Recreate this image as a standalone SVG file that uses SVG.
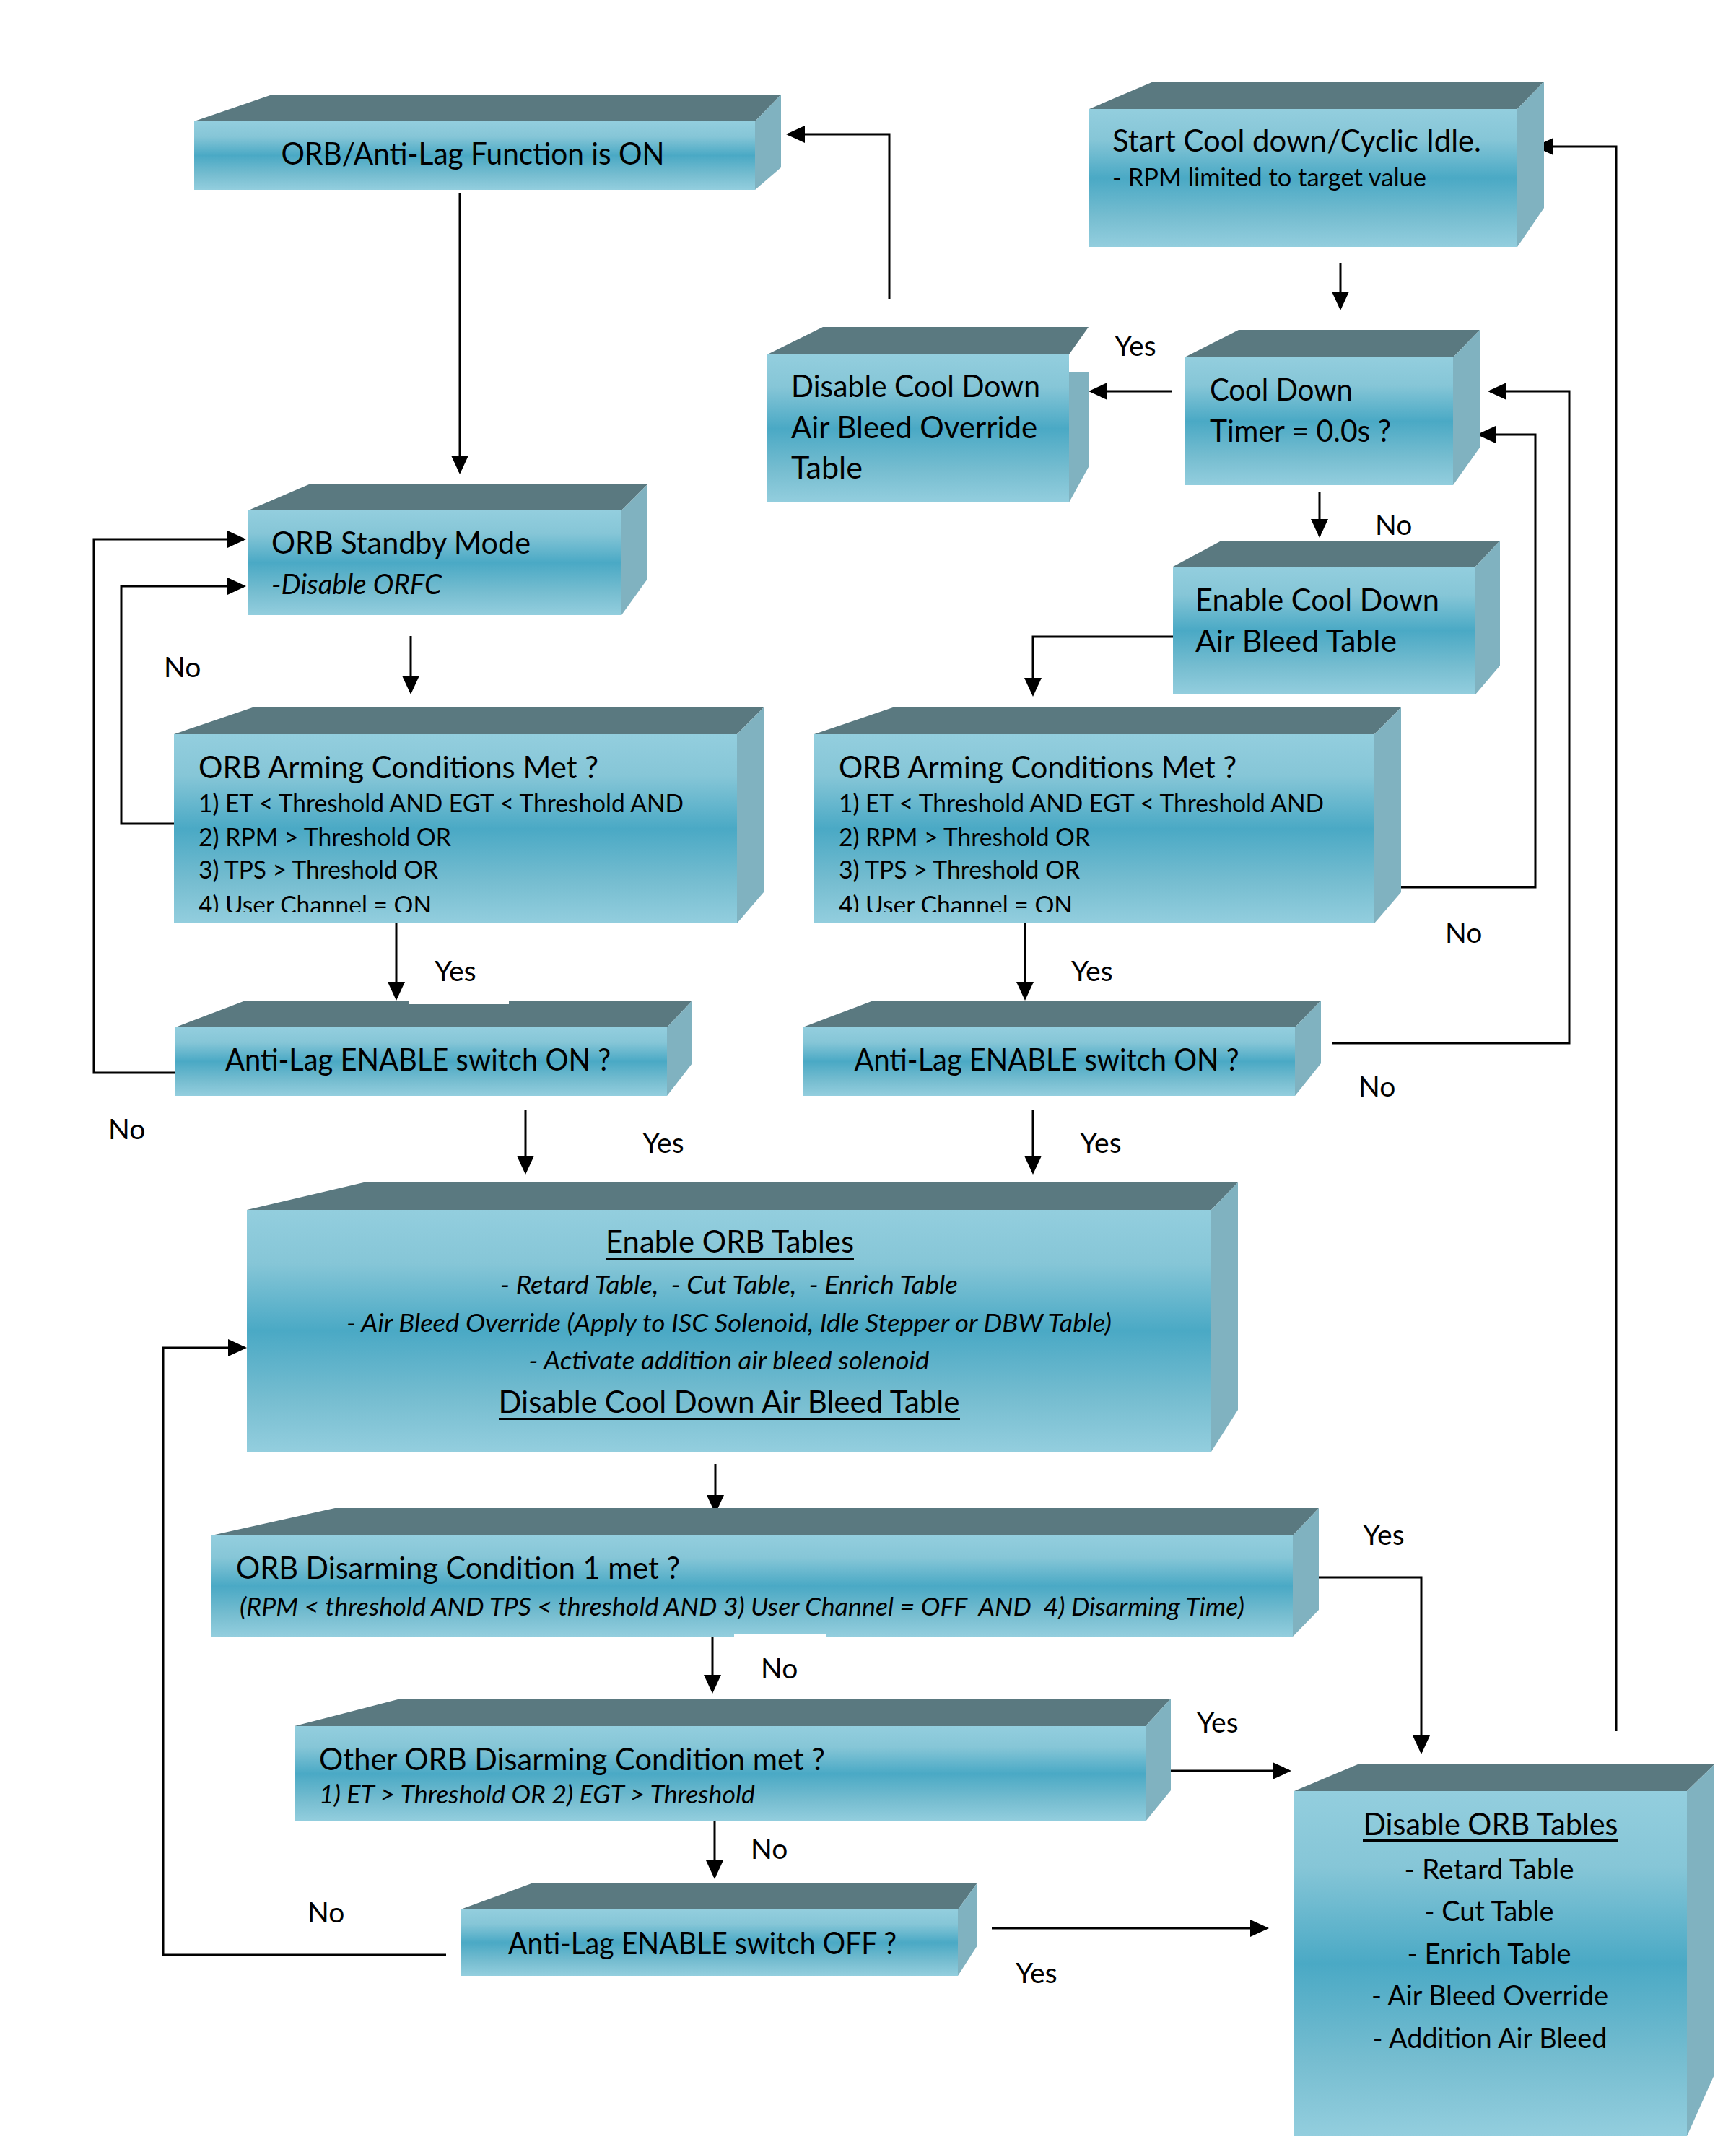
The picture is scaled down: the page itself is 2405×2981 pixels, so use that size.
<svg xmlns="http://www.w3.org/2000/svg" width="2405" height="2981" viewBox="0 0 2405 2981">
<defs>
<linearGradient id="front" x1="0" y1="0" x2="0" y2="1">
<stop offset="0" stop-color="#93cede"/>
<stop offset="0.22" stop-color="#86c6d7"/>
<stop offset="0.5" stop-color="#4aa9c5"/>
<stop offset="0.78" stop-color="#76bdd0"/>
<stop offset="1" stop-color="#93cede"/>
</linearGradient>
<marker id="arr" markerUnits="userSpaceOnUse" markerWidth="26" markerHeight="24" viewBox="0 0 26 24" refX="23" refY="12" orient="auto">
<path d="M0,0 L26,12 L0,24 z" fill="#000"/>
</marker>
<clipPath id="clipArm"><rect x="0" y="0" width="2405" height="1264"/></clipPath>
</defs>
<style>
.top{fill:#5a7980}
.side{fill:#80b2c0}
.front{fill:url(#front)}
.t{font-family:Lato,"Liberation Sans",sans-serif;fill:#000;white-space:pre}
.ti{font-size:42px}
.s{font-size:35px}
.i{font-style:italic}
.m{text-anchor:middle}
.lbl{font-family:Lato,"Liberation Sans",sans-serif;font-size:39px;fill:#000}
.c{stroke:#000;stroke-width:3;fill:none;marker-end:url(#arr)}
.cn{stroke:#000;stroke-width:3;fill:none}
.ul{fill:#000}
.wh{fill:#fff}
</style>

<g id="connectors">
<path class="c" d="M637,268 V654"/>
<path class="c" d="M1232,414 V186 H1092"/>
<path class="c" d="M1857,365 V427"/>
<path class="c" d="M1624,542 H1511"/>
<path class="c" d="M1828,682 V742"/>
<path class="c" d="M1625,882 H1431 V962"/>
<path class="c" d="M1934,1229 H2127 V602 H2049"/>
<path class="c" d="M1845,1445 H2174 V542 H2064"/>
<path class="c" d="M569,881 V959"/>
<path class="c" d="M241,1141 H168 V812 H338"/>
<path class="c" d="M243,1486 H130 V747 H338"/>
<path class="c" d="M549,1279 V1383"/>
<path class="c" d="M1420,1279 V1383"/>
<path class="c" d="M728,1538 V1624"/>
<path class="c" d="M1431,1538 V1624"/>
<path class="c" d="M991,2028 V2094"/>
<path class="c" d="M1806,2185 H1969 V2427"/>
<path class="c" d="M987,2267 V2343"/>
<path class="c" d="M1622,2453 H1786"/>
<path class="c" d="M990,2523 V2600"/>
<path class="c" d="M618,2708 H226 V1867 H339"/>
<path class="c" d="M1374,2671 H1755"/>
<path class="c" d="M2239,2398 V203 H2129"/>
</g>

<g id="labels">
<text class="lbl" x="1544" y="493">Yes</text>
<text class="lbl" x="1905" y="741">No</text>
<text class="lbl" x="227" y="938">No</text>
<text class="lbl" x="602" y="1359">Yes</text>
<text class="lbl" x="1484" y="1359">Yes</text>
<text class="lbl" x="2002" y="1306">No</text>
<text class="lbl" x="150" y="1578">No</text>
<text class="lbl" x="1882" y="1519">No</text>
<text class="lbl" x="890" y="1597">Yes</text>
<text class="lbl" x="1496" y="1597">Yes</text>
<text class="lbl" x="1888" y="2140">Yes</text>
<text class="lbl" x="1054" y="2325">No</text>
<text class="lbl" x="1658" y="2400">Yes</text>
<text class="lbl" x="1040" y="2575">No</text>
<text class="lbl" x="426" y="2663">No</text>
<text class="lbl" x="1407" y="2747">Yes</text>
</g>

<g id="n1">
<polygon class="top" points="269,168 377,131 1082,131 1046,168"/>
<polygon class="side" points="1046,168 1082,131 1082,232 1046,263"/>
<rect class="front" x="269" y="168" width="777" height="95"/>
<text class="t ti m" x="655" y="228" textLength="531" lengthAdjust="spacingAndGlyphs">ORB/Anti-Lag Function is ON</text>
</g>

<g id="n2">
<polygon class="top" points="1509,151 1598,113 2139,113 2102,151"/>
<polygon class="side" points="2102,151 2139,113 2139,288 2102,342"/>
<rect class="front" x="1509" y="151" width="593" height="191"/>
<text class="t ti" x="1541" y="210" textLength="511" lengthAdjust="spacingAndGlyphs">Start Cool down/Cyclic Idle.</text>
<text class="t s" x="1541" y="258" textLength="435" lengthAdjust="spacingAndGlyphs">- RPM limited to target value</text>
</g>

<g id="n3">
<polygon class="top" points="1063,491 1140,453 1508,453 1481,491"/>
<polygon class="side" points="1481,515 1508,515 1508,647 1481,696"/>
<rect class="front" x="1063" y="491" width="418" height="205"/>
<text class="t ti" x="1096" y="550" textLength="345" lengthAdjust="spacingAndGlyphs">Disable Cool Down</text>
<text class="t ti" x="1096" y="607" textLength="341" lengthAdjust="spacingAndGlyphs">Air Bleed Override</text>
<text class="t ti" x="1096" y="663" textLength="99" lengthAdjust="spacingAndGlyphs">Table</text>
</g>

<g id="n4">
<polygon class="top" points="1641,495 1716,457 2050,457 2013,495"/>
<polygon class="side" points="2013,495 2050,457 2050,620 2013,672"/>
<rect class="front" x="1641" y="495" width="372" height="177"/>
<text class="t ti" x="1676" y="555" textLength="198" lengthAdjust="spacingAndGlyphs">Cool Down</text>
<text class="t ti" x="1676" y="612" textLength="251" lengthAdjust="spacingAndGlyphs">Timer = 0.0s ?</text>
</g>

<g id="n5">
<polygon class="top" points="1625,785 1692,749 2078,749 2044,785"/>
<polygon class="side" points="2044,785 2078,749 2078,922 2044,962"/>
<rect class="front" x="1625" y="785" width="419" height="177"/>
<text class="t ti" x="1656" y="846" textLength="338" lengthAdjust="spacingAndGlyphs">Enable Cool Down</text>
<text class="t ti" x="1656" y="903" textLength="279" lengthAdjust="spacingAndGlyphs">Air Bleed Table</text>
</g>

<g id="n6">
<polygon class="top" points="344,707 428,671 897,671 861,707"/>
<polygon class="side" points="861,707 897,671 897,802 861,852"/>
<rect class="front" x="344" y="707" width="517" height="145"/>
<text class="t ti" x="376" y="767" textLength="359" lengthAdjust="spacingAndGlyphs">ORB Standby Mode</text>
<text class="t ti i" x="376" y="823" style="font-size:38px" textLength="236" lengthAdjust="spacingAndGlyphs">-Disable ORFC</text>
</g>

<g id="n7">
<polygon class="top" points="241,1017 350,980 1058,980 1021,1017"/>
<polygon class="side" points="1021,1017 1058,980 1058,1236 1021,1279"/>
<rect class="front" x="241" y="1017" width="780" height="262"/>
<text class="t ti" x="275" y="1078" textLength="554" lengthAdjust="spacingAndGlyphs">ORB Arming Conditions Met ?</text>
<text class="t s" x="275" y="1125" textLength="672" lengthAdjust="spacingAndGlyphs">1) ET &lt; Threshold AND EGT &lt; Threshold AND</text>
<text class="t s" x="275" y="1172" textLength="350" lengthAdjust="spacingAndGlyphs">2) RPM &gt; Threshold OR</text>
<text class="t s" x="275" y="1217" textLength="332" lengthAdjust="spacingAndGlyphs">3) TPS &gt; Threshold OR</text>
<text class="t s" x="275" y="1266" textLength="323" lengthAdjust="spacingAndGlyphs" clip-path="url(#clipArm)">4) User Channel = ON</text>
</g>

<g id="n8">
<polygon class="top" points="1128,1017 1237,980 1941,980 1904,1017"/>
<polygon class="side" points="1904,1017 1941,980 1941,1236 1904,1279"/>
<rect class="front" x="1128" y="1017" width="776" height="262"/>
<text class="t ti" x="1162" y="1078" textLength="551" lengthAdjust="spacingAndGlyphs">ORB Arming Conditions Met ?</text>
<text class="t s" x="1162" y="1125" textLength="672" lengthAdjust="spacingAndGlyphs">1) ET &lt; Threshold AND EGT &lt; Threshold AND</text>
<text class="t s" x="1162" y="1172" textLength="348" lengthAdjust="spacingAndGlyphs">2) RPM &gt; Threshold OR</text>
<text class="t s" x="1162" y="1217" textLength="334" lengthAdjust="spacingAndGlyphs">3) TPS &gt; Threshold OR</text>
<text class="t s" x="1162" y="1266" textLength="324" lengthAdjust="spacingAndGlyphs" clip-path="url(#clipArm)">4) User Channel = ON</text>
</g>

<g id="n9">
<polygon class="top" points="243,1423 340,1386 959,1386 924,1423"/>
<polygon class="side" points="924,1423 959,1386 959,1473 924,1518"/>
<rect class="front" x="243" y="1423" width="681" height="95"/>
<rect class="wh" x="566" y="1378" width="139" height="13"/>
<text class="t ti m" x="579" y="1483" textLength="534" lengthAdjust="spacingAndGlyphs">Anti-Lag ENABLE switch ON ?</text>
</g>

<g id="n10">
<polygon class="top" points="1112,1423 1210,1386 1830,1386 1794,1423"/>
<polygon class="side" points="1794,1423 1830,1386 1830,1473 1794,1518"/>
<rect class="front" x="1112" y="1423" width="682" height="95"/>
<text class="t ti m" x="1450" y="1483" textLength="533" lengthAdjust="spacingAndGlyphs">Anti-Lag ENABLE switch ON ?</text>
</g>

<g id="n11">
<polygon class="top" points="342,1676 504,1638 1715,1638 1678,1676"/>
<polygon class="side" points="1678,1676 1715,1638 1715,1953 1678,2011"/>
<rect class="front" x="342" y="1676" width="1336" height="335"/>
<text class="t ti m" x="1011" y="1735" textLength="344" lengthAdjust="spacingAndGlyphs">Enable ORB Tables</text>
<rect class="ul" x="839" y="1742" width="344" height="3"/>
<text class="t s i m" x="1010" y="1792" textLength="634" lengthAdjust="spacingAndGlyphs">- Retard Table,  - Cut Table,  - Enrich Table</text>
<text class="t s i m" x="1010" y="1845" textLength="1060" lengthAdjust="spacingAndGlyphs">- Air Bleed Override (Apply to ISC Solenoid, Idle Stepper or DBW Table)</text>
<text class="t s i m" x="1010" y="1897" textLength="555" lengthAdjust="spacingAndGlyphs">- Activate addition air bleed solenoid</text>
<text class="t ti m" x="1010" y="1957" textLength="639" lengthAdjust="spacingAndGlyphs">Disable Cool Down Air Bleed Table</text>
<rect class="ul" x="691" y="1964" width="639" height="3"/>
</g>

<g id="n12">
<polygon class="top" points="293,2127 464,2089 1827,2089 1791,2127"/>
<polygon class="side" points="1791,2127 1827,2089 1827,2230 1791,2267"/>
<rect class="front" x="293" y="2127" width="1498" height="140"/>
<rect class="wh" x="1017" y="2263" width="128" height="8"/>
<text class="t ti" x="327" y="2187" textLength="615" lengthAdjust="spacingAndGlyphs">ORB Disarming Condition 1 met ?</text>
<text class="t s i" x="332" y="2238" textLength="1392" lengthAdjust="spacingAndGlyphs">(RPM &lt; threshold AND TPS &lt; threshold AND 3) User Channel = OFF  AND  4) Disarming Time)</text>
</g>

<g id="n13">
<polygon class="top" points="408,2391 555,2353 1622,2353 1587,2391"/>
<polygon class="side" points="1587,2391 1622,2353 1622,2480 1587,2523"/>
<rect class="front" x="408" y="2391" width="1179" height="132"/>
<text class="t ti" x="442" y="2452" textLength="701" lengthAdjust="spacingAndGlyphs">Other ORB Disarming Condition met ?</text>
<text class="t s i" x="442" y="2498" textLength="604" lengthAdjust="spacingAndGlyphs">1) ET &gt; Threshold OR 2) EGT &gt; Threshold</text>
</g>

<g id="n14">
<polygon class="top" points="638,2645 739,2608 1354,2608 1327,2645"/>
<polygon class="side" points="1327,2645 1354,2608 1354,2695 1327,2737"/>
<rect class="front" x="638" y="2645" width="689" height="92"/>
<text class="t ti m" x="973" y="2707" textLength="538" lengthAdjust="spacingAndGlyphs">Anti-Lag ENABLE switch OFF ?</text>
</g>

<g id="n15">
<polygon class="top" points="1793,2481 1881,2444 2375,2444 2337,2481"/>
<polygon class="side" points="2337,2481 2375,2444 2375,2874 2337,2959"/>
<rect class="front" x="1793" y="2481" width="544" height="478"/>
<text class="t ti m" x="2065" y="2542" textLength="353" lengthAdjust="spacingAndGlyphs">Disable ORB Tables</text>
<rect class="ul" x="1888" y="2548" width="353" height="3"/>
<text class="t ti m" x="2063" y="2603" style="font-size:38px" textLength="235" lengthAdjust="spacingAndGlyphs">- Retard Table</text>
<text class="t ti m" x="2063" y="2661" style="font-size:38px" textLength="179" lengthAdjust="spacingAndGlyphs">- Cut Table</text>
<text class="t ti m" x="2063" y="2720" style="font-size:38px" textLength="227" lengthAdjust="spacingAndGlyphs">- Enrich Table</text>
<text class="t ti m" x="2064" y="2778" style="font-size:38px" textLength="328" lengthAdjust="spacingAndGlyphs">- Air Bleed Override</text>
<text class="t ti m" x="2064" y="2837" style="font-size:38px" textLength="325" lengthAdjust="spacingAndGlyphs">- Addition Air Bleed</text>
</g>
</svg>
